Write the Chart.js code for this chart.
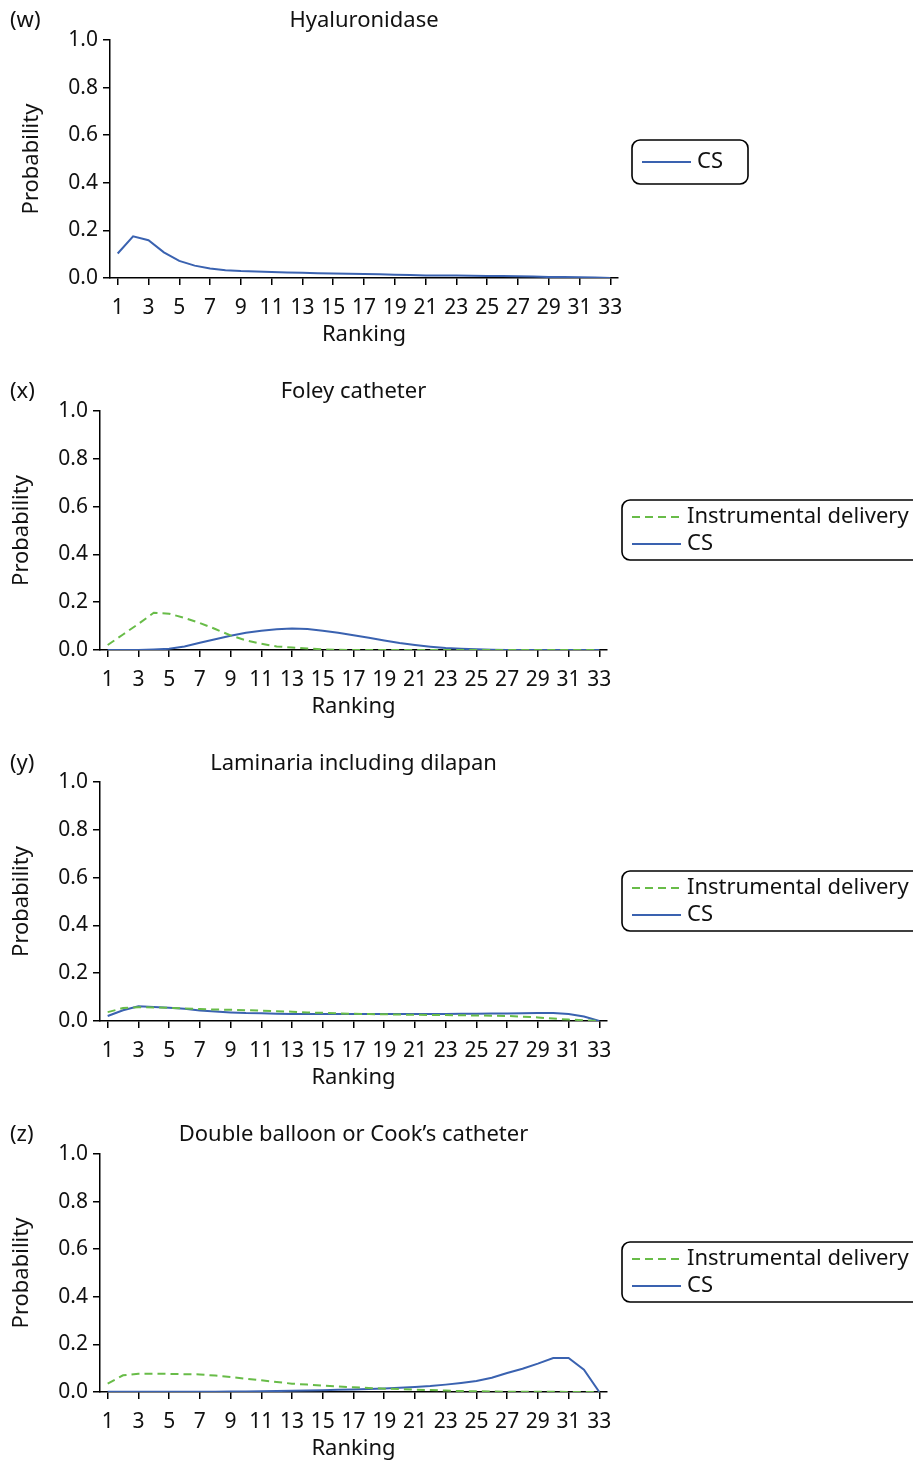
<!DOCTYPE html>
<html lang="en">
<head>
    <meta charset="utf-8" />
    <title>Ranking probabilities</title>
    <script src="https://cdn.jsdelivr.net/npm/chart.js"></script>
    <style>
        html, body { margin: 0; padding: 0; background: #fff; overflow: hidden; }
        canvas { display: block; }
    </style>
</head>
<body>

    <canvas id="panelW" width="913" height="371"></canvas>
    <canvas id="panelX" width="913" height="371"></canvas>
    <canvas id="panelY" width="913" height="371"></canvas>
    <canvas id="panelZ" width="913" height="350"></canvas>

    <script>
        // rankings on the x axis and the labelled ticks
        const rankings = [1, 2, 3, 4, 5, 6, 7, 8, 9, 10, 11, 12, 13, 14, 15, 16, 17, 18, 19, 20, 21, 22, 23, 24, 25, 26, 27, 28, 29, 30, 31, 32, 33];
        const rankTicks = [1, 3, 5, 7, 9, 11, 13, 15, 17, 19, 21, 23, 25, 27, 29, 31, 33];
        const probTicks = [0, 0.2, 0.4, 0.6, 0.8, 1.0];

        // (w) Hyaluronidase
        const hyaluronidaseCS = [0.103, 0.175, 0.159, 0.108, 0.072, 0.052, 0.040, 0.033, 0.029, 0.027, 0.025, 0.023, 0.022, 0.020, 0.019, 0.018, 0.017, 0.016, 0.014, 0.013, 0.011, 0.011, 0.010, 0.009, 0.008, 0.008, 0.007, 0.006, 0.004, 0.004, 0.003, 0.002, 0.000];

        // (x) Foley catheter
        const foleyInstrumental = [0.021, 0.065, 0.109, 0.156, 0.152, 0.134, 0.113, 0.088, 0.061, 0.040, 0.026, 0.015, 0.010, 0.006, 0.003, 0.001, 0, 0, 0, 0, 0, 0, 0, 0, 0, 0, 0, 0, 0, 0, 0, 0, 0];
        const foleyCS = [0, 0, 0, 0.002, 0.005, 0.015, 0.030, 0.045, 0.060, 0.072, 0.081, 0.087, 0.090, 0.088, 0.081, 0.072, 0.062, 0.051, 0.040, 0.029, 0.021, 0.014, 0.008, 0.005, 0.003, 0.001, 0, 0, 0, 0, 0, 0, 0];

        // (y) Laminaria including dilapan
        const laminariaInstrumental = [0.037, 0.054, 0.058, 0.057, 0.055, 0.052, 0.050, 0.048, 0.047, 0.045, 0.043, 0.041, 0.039, 0.036, 0.034, 0.032, 0.030, 0.029, 0.028, 0.027, 0.026, 0.025, 0.025, 0.024, 0.023, 0.022, 0.021, 0.018, 0.015, 0.010, 0.006, 0.003, 0.001];
        const laminariaCS = [0.021, 0.045, 0.062, 0.059, 0.055, 0.051, 0.044, 0.040, 0.036, 0.033, 0.032, 0.030, 0.029, 0.029, 0.029, 0.029, 0.029, 0.029, 0.029, 0.029, 0.029, 0.029, 0.029, 0.030, 0.030, 0.031, 0.031, 0.032, 0.033, 0.033, 0.029, 0.019, 0.000];

        // (z) Double balloon or Cook's catheter
        const doubleBalloonInstrumental = [0.035, 0.070, 0.077, 0.077, 0.076, 0.075, 0.074, 0.069, 0.063, 0.056, 0.049, 0.042, 0.035, 0.031, 0.027, 0.023, 0.020, 0.017, 0.014, 0.012, 0.010, 0.008, 0.006, 0.004, 0.003, 0.002, 0.001, 0.001, 0.001, 0.001, 0, 0, 0];
        const doubleBalloonCS = [0.001, 0.001, 0.001, 0.001, 0.001, 0.001, 0.001, 0.001, 0.002, 0.002, 0.003, 0.004, 0.005, 0.006, 0.007, 0.009, 0.011, 0.013, 0.015, 0.018, 0.021, 0.025, 0.031, 0.038, 0.046, 0.060, 0.080, 0.098, 0.119, 0.143, 0.143, 0.094, 0.000];

        const FONT = '"Noto Sans", "Open Sans", sans-serif';
        const TEXT_SIZE = 22;
        const TICK_SIZE = 21;
        const INK = '#111';
        const BLUE = 'rgb(58, 98, 176)';
        const GREEN = 'rgb(104, 188, 72)';

        Chart.defaults.font.family = FONT;
        Chart.defaults.font.size = TICK_SIZE;
        Chart.defaults.color = INK;

        // panel letter and heading, drawn above the plot area
        const panelHeading = {
            id: 'panelHeading',
            afterDraw(chart, args, opts) {
                const { ctx, chartArea } = chart;
                ctx.save();
                ctx.font = TEXT_SIZE + 'px ' + FONT;
                ctx.fillStyle = INK;
                ctx.textBaseline = 'middle';
                ctx.textAlign = 'left';
                ctx.fillText(opts.letter, 10, opts.y);
                ctx.textAlign = 'center';
                ctx.fillText(opts.text, (chartArea.left + chartArea.right) / 2, opts.y);
                ctx.restore();
            }
        };

        // boxed legend with line samples taken from the datasets
        const boxedLegend = {
            id: 'boxedLegend',
            afterDraw(chart, args, opts) {
                const { ctx } = chart;
                const b = opts.box;
                ctx.save();
                ctx.lineWidth = 1.6;
                ctx.strokeStyle = '#000';
                ctx.beginPath();
                ctx.roundRect(b.x, b.y, b.w, b.h, 8);
                ctx.stroke();
                ctx.font = TEXT_SIZE + 'px ' + FONT;
                ctx.fillStyle = INK;
                ctx.textBaseline = 'middle';
                ctx.textAlign = 'left';
                chart.data.datasets.forEach((ds, i) => {
                    const y = opts.firstRow + i * opts.rowGap;
                    ctx.strokeStyle = ds.borderColor;
                    ctx.lineWidth = ds.borderWidth;
                    ctx.setLineDash(ds.borderDash || []);
                    ctx.beginPath();
                    ctx.moveTo(opts.sampleX, y);
                    ctx.lineTo(opts.sampleX + opts.sampleW, y);
                    ctx.stroke();
                    ctx.setLineDash([]);
                    ctx.fillText(ds.label, opts.sampleX + opts.sampleW + 6, y);
                });
                ctx.restore();
            }
        };

        function series(label, values, color, dashed) {
            return {
                label: label,
                data: values.map((v, i) => ({ x: rankings[i], y: v })),
                borderColor: color,
                borderWidth: 2,
                borderDash: dashed ? [8, 5] : [],
                pointRadius: 0,
                tension: 0,
                fill: false
            };
        }

        function DrawPanel(id, letter, heading, datasets, g) {
            const canvas = document.getElementById(id);
            const axisW = g.left;
            const xAxisH = 70;

            return new Chart(canvas.getContext('2d'), {
                type: 'line',
                data: { datasets: datasets },
                plugins: [panelHeading, boxedLegend],
                options: {
                    responsive: false,
                    animation: false,
                    layout: {
                        padding: { left: 0, top: g.top, right: canvas.width - g.right, bottom: canvas.height - g.bottom - xAxisH }
                    },
                    plugins: {
                        legend: { display: false },
                        title: { display: false },
                        tooltip: { enabled: false },
                        panelHeading: { letter: letter, text: heading, y: g.headingY },
                        boxedLegend: g.legend
                    },
                    scales: {
                        x: {
                            type: 'linear',
                            min: 0.5,
                            max: 33.5,
                            afterBuildTicks: s => { s.ticks = rankTicks.map(v => ({ value: v })); },
                            afterFit: s => { s.height = xAxisH; },
                            grid: { drawOnChartArea: false, drawTicks: true, tickLength: 7, color: '#000', lineWidth: 1.5 },
                            border: { display: true, color: '#000', width: 1.5 },
                            ticks: { padding: 10, maxRotation: 0, autoSkip: false, color: INK, callback: v => String(v) },
                            title: { display: true, text: 'Ranking', color: INK, font: { size: TEXT_SIZE }, padding: 0 }
                        },
                        y: {
                            min: 0,
                            max: 1,
                            afterBuildTicks: s => { s.ticks = probTicks.map(v => ({ value: v })); },
                            afterFit: s => { s.width = axisW; },
                            grid: { drawOnChartArea: false, drawTicks: true, tickLength: 7, color: '#000', lineWidth: 1.5 },
                            border: { display: true, color: '#000', width: 1.5 },
                            ticks: { padding: 5, color: INK, callback: v => v.toFixed(1) },
                            title: { display: true, text: 'Probability', color: INK, font: { size: TEXT_SIZE }, padding: { top: g.yTitlePad, bottom: 0 } }
                        }
                    }
                }
            });
        }

        const twoRowLegend = {
            box: { x: 622, y: 129, w: 300, h: 60 },
            sampleX: 632, sampleW: 49, firstRow: 146, rowGap: 27
        };

        DrawPanel('panelW', '(w)', 'Hyaluronidase', [
            series('CS', hyaluronidaseCS, BLUE, false)
        ], {
            left: 110, right: 618, top: 40, bottom: 278, headingY: 21, yTitlePad: 19,
            legend: { box: { x: 632, y: 140, w: 116, h: 44 }, sampleX: 642, sampleW: 49, firstRow: 162, rowGap: 27 }
        });

        DrawPanel('panelX', '(x)', 'Foley catheter', [
            series('Instrumental delivery', foleyInstrumental, GREEN, true),
            series('CS', foleyCS, BLUE, false)
        ], { left: 100, right: 607, top: 40, bottom: 279, headingY: 21, yTitlePad: 9, legend: twoRowLegend });

        DrawPanel('panelY', '(y)', 'Laminaria including dilapan', [
            series('Instrumental delivery', laminariaInstrumental, GREEN, true),
            series('CS', laminariaCS, BLUE, false)
        ], { left: 100, right: 607, top: 40, bottom: 279, headingY: 22, yTitlePad: 9, legend: twoRowLegend });

        DrawPanel('panelZ', '(z)', 'Double balloon or Cook\u2019s catheter', [
            series('Instrumental delivery', doubleBalloonInstrumental, GREEN, true),
            series('CS', doubleBalloonCS, BLUE, false)
        ], { left: 100, right: 607, top: 41, bottom: 279, headingY: 22, yTitlePad: 9, legend: twoRowLegend });
    </script>

</body>
</html>
